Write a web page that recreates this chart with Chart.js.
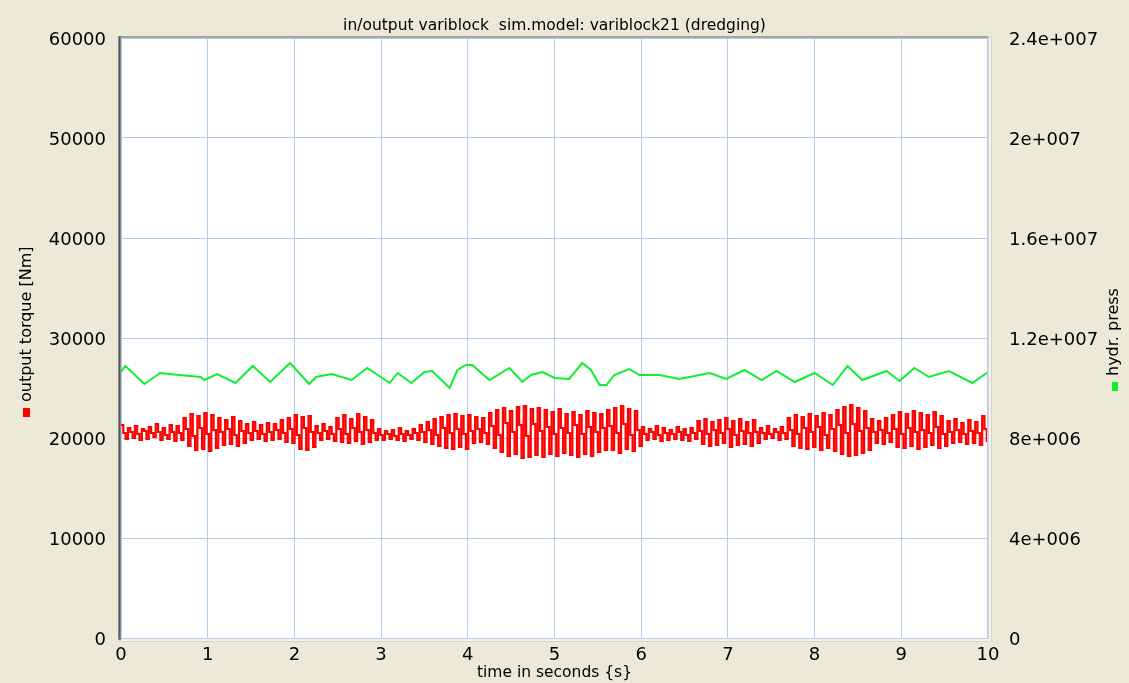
<!DOCTYPE html>
<html>
<head>
<meta charset="utf-8">
<script src="https://cdn.jsdelivr.net/npm/chart.js@4.4.0/dist/chart.umd.min.js"></script>
<style>
html,body{margin:0;padding:0;background:#ECE9D8;}
#wrap{width:1129px;height:683px;position:relative;}
</style>
</head>
<body>
<div id="wrap"><canvas id="c"></canvas></div>
<script>
// ---- data ----
const chartTitle = "in/output variblock  sim.model: variblock21 (dredging)";
const xTitle = "time in seconds {s}";
const leftTitle = "output torque [Nm]";
const rightTitle = "hydr. press";
const xTicks = [0,1,2,3,4,5,6,7,8,9,10];
const leftTicks = [0,10000,20000,30000,40000,50000,60000];
const rightTicks = [0,4e6,8e6,1.2e7,1.6e7,2e7,2.4e7];

// output torque: three samples per oscillation (crest, shoulder, trough), sample step in s
const torqueStep = 0.0267;
const torqueCrests = [
 21300,21000,21200,20900,21100,21400,21000,21300,21200,
 22000,22400,22200,22500,22300,
 22000,21800,22100,21700,
 21400,21600,21300,21500,21400,21800,22000,
 22300,22100,22200,
 21200,21400,21100,
 22000,22300,21900,22400,22100,21800,
 20900,20700,20800,21000,20700,20900,
 21300,21600,21900,22100,22300,22400,22200,
 22300,22100,22000,
 22500,22800,23000,22700,23100,23200,22900,23000,22800,22600,22900,
 22400,22600,22300,22700,22500,22400,
 22800,23000,23200,22900,22700,
 21100,20900,21200,21000,20800,21100,20900,21000,
 21700,21900,21600,21800,22000,21700,21900,21600,21800,
 21000,21200,20900,21100,
 22000,22300,22100,22400,22200,22500,22300,
 22800,23100,23300,23000,22700,
 21900,21700,22000,
 22300,22600,22400,22700,22500,22300,22600,22200,
 21700,21900,21500,21800,21600,22200
];
const torqueShoulders = [
 20500,20600,20400,20700,20500,20600,20300,20600,20500,
 20900,20200,21000,20400,20800,
 20600,20900,20300,20700,
 20500,20700,20400,20600,20800,20500,20900,
 20300,21000,20600,
 20500,20700,20400,
 20900,20400,21000,20600,20800,20500,
 20300,20400,20200,20400,20300,20500,
 20600,20800,20300,21000,20500,20900,20400,
 20700,20900,20500,
 21200,20300,21500,20600,21300,20200,21400,20700,21100,20400,21000,
 20500,21300,20400,21100,20600,21000,
 21200,20500,21400,20300,20800,
 20400,20600,20300,20500,20400,20600,20300,20500,
 20700,20400,20800,20500,20900,20300,20700,20500,20600,
 20500,20400,20600,20500,
 20800,20400,21000,20600,21100,20300,20900,
 21300,20500,21400,20700,21000,
 20600,20800,20500,
 20900,20400,21000,20600,20800,20500,21100,20400,
 20600,20800,20400,20700,20500,20900
];
const torqueTroughs = [
 19900,20000,19800,19900,20100,19800,19900,19700,19800,
 19200,18800,18900,18700,19000,
 19300,19400,19200,19500,
 19800,19900,19700,19800,19900,19600,19500,
 18900,18800,19100,
 19800,19900,19700,
 19600,19500,19700,19400,19600,19800,
 19800,19900,19800,19700,19900,19800,
 19600,19400,19200,19000,18900,19100,18900,
 19500,19600,19400,
 19000,18600,18200,18400,18000,18100,18300,18100,18400,18200,18500,
 18300,18100,18400,18200,18600,18800,
 18800,18500,18900,18700,19200,
 19800,19900,19700,19800,19900,19800,19700,19900,
 19400,19200,19300,19500,19100,19300,19400,19200,19500,
 19900,20000,19800,19900,
 19200,19000,18900,19100,18800,19000,18700,
 18400,18200,18300,18500,18800,
 19500,19400,19600,
 19100,19000,19200,18900,19100,19300,19000,19200,
 19500,19600,19400,19500,19300,19600
];

// hydraulic pressure [Pa]
const pressTime = [0.00,0.05,0.27,0.45,0.67,0.92,0.96,1.11,1.32,1.52,1.72,1.95,2.17,2.25,2.43,2.66,2.84,3.10,3.19,3.35,3.50,3.59,3.79,3.88,3.98,4.05,4.25,4.48,4.63,4.73,4.86,5.00,5.17,5.32,5.42,5.52,5.60,5.69,5.86,5.98,6.21,6.44,6.79,6.98,7.19,7.39,7.56,7.77,8.00,8.21,8.38,8.55,8.83,8.98,9.15,9.32,9.55,9.82,10.00];
const pressValue = [10.64e6,10.88e6,10.16e6,10.60e6,10.52e6,10.44e6,10.32e6,10.56e6,10.20e6,10.88e6,10.24e6,11.00e6,10.16e6,10.44e6,10.56e6,10.32e6,10.80e6,10.20e6,10.60e6,10.20e6,10.64e6,10.68e6,10.00e6,10.72e6,10.92e6,10.92e6,10.32e6,10.80e6,10.24e6,10.52e6,10.64e6,10.40e6,10.36e6,11.00e6,10.72e6,10.12e6,10.12e6,10.52e6,10.76e6,10.52e6,10.52e6,10.36e6,10.60e6,10.36e6,10.72e6,10.32e6,10.68e6,10.24e6,10.60e6,10.12e6,10.88e6,10.32e6,10.68e6,10.28e6,10.80e6,10.44e6,10.68e6,10.20e6,10.64e6];

// ---- build datasets ----
const torqueData = [];
for (let k = 0; k < torqueCrests.length; k++) {
  torqueData.push({x: (3*k)*torqueStep,   y: torqueCrests[k]});
  torqueData.push({x: (3*k+1)*torqueStep, y: torqueShoulders[k]});
  torqueData.push({x: (3*k+2)*torqueStep, y: torqueTroughs[k]});
}
const pressData = pressTime.map((t,i)=>({x:t, y:pressValue[i]}));

function sci(v){
  if (v === 0) return "0";
  const e = Math.floor(Math.log10(v) + 1e-9);
  const m = parseFloat((v/Math.pow(10,e)).toFixed(3));
  return m + "e+" + String(e).padStart(3,"0");
}

const FONT = "'DejaVu Sans', sans-serif";
const GRID = "#b2cdf0";
const PLOT = {left:121, right:988, top:38, bottom:638};

const framePlugin = {
  id: "frame",
  beforeDraw(chart){
    const ctx = chart.ctx, a = chart.chartArea;
    ctx.save();
    ctx.fillStyle = "#ECE9D8";
    ctx.fillRect(0,0,chart.width,chart.height);
    ctx.fillStyle = "#ffffff";
    ctx.fillRect(a.left, a.top, a.right-a.left, a.bottom-a.top);
    ctx.restore();
  },
  afterDraw(chart){
    const ctx = chart.ctx, a = chart.chartArea;
    ctx.save();
    // bevel frame
    ctx.fillStyle = "#d8d5c8";
    ctx.fillRect(a.right, a.top-1, 4, a.bottom-a.top+5);
    ctx.fillRect(a.left-2, a.bottom, a.right-a.left+6, 4);
    ctx.fillStyle = "#f4f3ee";
    ctx.fillRect(a.right+1, a.top, 2, a.bottom-a.top+3);
    ctx.fillRect(a.left, a.bottom+1, a.right-a.left+3, 2);
    ctx.fillStyle = GRID;
    ctx.fillRect(a.right-1, a.top, 1, a.bottom-a.top+1);
    ctx.fillRect(a.left, a.bottom, a.right-a.left, 1);
    ctx.fillStyle = "#a8a69c";
    ctx.fillRect(a.left-3, a.top-2, a.right-a.left+3, 2);
    ctx.fillStyle = "#8a8880";
    ctx.fillRect(a.left-3, a.top-2, 3, a.bottom-a.top+4);
    ctx.fillStyle = "#5e5c56";
    ctx.fillRect(a.left-2, a.top-1, 1, a.bottom-a.top+2);

    // texts
    ctx.fillStyle = "#000";
    ctx.textAlign = "center";
    ctx.textBaseline = "middle";
    ctx.font = "15.5px " + FONT;
    ctx.fillText(chartTitle, (a.left+a.right)/2, 26);
    ctx.font = "15.5px " + FONT;
    ctx.fillText(xTitle, (a.left+a.right)/2, 673);

    // left axis title + red marker
    ctx.font = "16px " + FONT;
    ctx.save();
    ctx.translate(27, 402);
    ctx.rotate(-Math.PI/2);
    ctx.textAlign = "left";
    ctx.fillText(leftTitle, 0, 0);
    ctx.restore();
    ctx.fillStyle = "#ff0000";
    ctx.fillRect(23, 408, 7, 9);

    // right axis title + green marker
    ctx.fillStyle = "#000";
    ctx.save();
    ctx.translate(1114, 376);
    ctx.rotate(-Math.PI/2);
    ctx.textAlign = "left";
    ctx.fillText(rightTitle, 0, 0);
    ctx.restore();
    ctx.fillStyle = "#11ee33";
    ctx.fillRect(1112, 382, 6, 9);
    ctx.restore();
  }
};

new Chart(document.getElementById("c"), {
  type: "line",
  data: {
    datasets: [
      {label: leftTitle, data: torqueData, yAxisID: "y", borderColor: "#ff0000",
       borderWidth: 2.2, stepped: true, pointRadius: 0, fill: false},
      {label: rightTitle, data: pressData, yAxisID: "y2", borderColor: "#11ee33",
       borderWidth: 2, tension: 0, pointRadius: 0, fill: false}
    ]
  },
  options: {
    responsive: true,
    maintainAspectRatio: false,
    animation: false,
    events: [],
    layout: {padding: {top: PLOT.top, left: 0, right: 0, bottom: 0}},
    plugins: {legend: {display: false}, title: {display: false}, tooltip: {enabled: false}},
    scales: {
      x: {
        type: "linear", min: 0, max: 10,
        afterBuildTicks(s){ s.ticks = xTicks.map(v=>({value:v})); },
        afterFit(s){ s.height = 683 - PLOT.bottom; },
        grid: {color: GRID, lineWidth: 1, drawTicks: false},
        border: {display: false},
        ticks: {autoSkip: false, maxRotation: 0, padding: 7, color: "#000",
                font: {family: FONT, size: 18}}
      },
      y: {
        type: "linear", position: "left", min: 0, max: 60000,
        afterBuildTicks(s){ s.ticks = leftTicks.map(v=>({value:v})); },
        afterFit(s){ s.width = PLOT.left; },
        grid: {color: GRID, lineWidth: 1, drawTicks: false},
        border: {display: false},
        ticks: {padding: 15, labelOffset: 2, color: "#000", font: {family: FONT, size: 18},
                callback: v => String(v)}
      },
      y2: {
        type: "linear", position: "right", min: 0, max: 2.4e7,
        afterBuildTicks(s){ s.ticks = rightTicks.map(v=>({value:v})); },
        afterFit(s){ s.width = 1129 - PLOT.right; },
        grid: {display: false, drawTicks: false},
        border: {display: false},
        ticks: {padding: 21, labelOffset: 2, color: "#000", font: {family: FONT, size: 18},
                callback: v => sci(v)}
      }
    }
  },
  plugins: [framePlugin]
});
</script>
</body>
</html>
